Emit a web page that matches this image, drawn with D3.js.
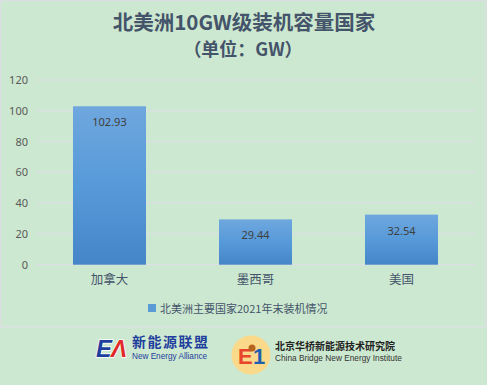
<!DOCTYPE html>
<meta charset="utf-8" />
<style>
  body { margin: 0; overflow: hidden; background: #cde8d0; }
  svg { font-family: "Noto Sans CJK SC", "Noto Sans", sans-serif; display: block; }
</style>
<body>
<svg></svg>
<script src="https://d3js.org/d3.v7.min.js"></script>
<script>
  var countries = ["加拿大", "墨西哥", "美国"];
  var capacity = [102.93, 29.44, 32.54];
  var yTicks = [0, 20, 40, 60, 80, 100, 120];
  var seriesName = "北美洲主要国家2021年末装机情况";

  var width = 487, height = 385;
  var svg = d3.select("svg").attr("width", width).attr("height", height);

  var defs = svg.append("defs");
  var grad = defs.append("linearGradient").attr("id", "barGrad")
    .attr("x1", 0).attr("y1", 0).attr("x2", 0).attr("y2", 1);
  grad.append("stop").attr("offset", "0%").attr("stop-color", "#6fa7de");
  grad.append("stop").attr("offset", "50%").attr("stop-color", "#579ad9");
  grad.append("stop").attr("offset", "100%").attr("stop-color", "#4585c8");

  // chart frame
  svg.append("rect").attr("x", 0.5).attr("y", 0.5).attr("width", 485).attr("height", 326.5)
    .attr("fill", "#cde8d0").attr("stroke", "#dcdfe2").attr("stroke-width", 1.5);

  // title
  svg.append("text").attr("x", 244).attr("y", 30).attr("text-anchor", "middle")
    .attr("font-size", 20.5).attr("font-weight", "bold").attr("fill", "#44546a")
    .text("北美洲10GW级装机容量国家");
  svg.append("text").attr("x", 243).attr("y", 56).attr("text-anchor", "middle")
    .attr("font-size", 18).attr("font-weight", "bold").attr("fill", "#44546a")
    .text("（单位：GW）");

  var x = d3.scaleBand().domain(countries).range([36.5, 474.5]).paddingInner(0.5).paddingOuter(0.25);
  var y = d3.scaleLinear().domain([0, 120]).range([264.7, 80]);

  // gridlines
  svg.append("g").selectAll("line").data(yTicks).join("line")
    .attr("x1", 37).attr("x2", 475)
    .attr("y1", d => y(d)).attr("y2", d => y(d))
    .attr("stroke", "#dcdfe3").attr("stroke-width", 1.3);

  // y axis labels
  var yAxis = d3.axisLeft(y).tickValues(yTicks).tickSize(0).tickPadding(0);
  var gy = svg.append("g").attr("transform", "translate(28,0)").call(yAxis);
  gy.select(".domain").remove();
  gy.selectAll("text").attr("font-size", 11).attr("fill", "#595959")
    .attr("font-family", "'Noto Sans', sans-serif");

  // bars
  svg.append("g").selectAll("rect").data(capacity).join("rect")
    .attr("x", (d, i) => x(countries[i]))
    .attr("width", x.bandwidth())
    .attr("y", d => y(d))
    .attr("height", d => y(0) - y(d))
    .attr("fill", "url(#barGrad)");

  // value labels
  svg.append("g").selectAll("text").data(capacity).join("text")
    .attr("x", (d, i) => x(countries[i]) + x.bandwidth() / 2)
    .attr("y", d => y(d) + 20)
    .attr("text-anchor", "middle")
    .attr("font-size", 11).attr("fill", "#404040")
    .attr("font-family", "'Noto Sans', sans-serif")
    .text(d => d.toFixed(2));

  // x axis labels
  var xAxis = d3.axisBottom(x).tickSize(0).tickPadding(0);
  var gx = svg.append("g").attr("transform", "translate(0,275)").call(xAxis);
  gx.select(".domain").remove();
  gx.selectAll("text").attr("font-size", 12.5).attr("fill", "#44546a")
    .attr("font-family", "'Noto Sans CJK SC', sans-serif");

  // legend
  svg.append("rect").attr("x", 148).attr("y", 304).attr("width", 8).attr("height", 8).attr("fill", "#5b9bd5");
  svg.append("text").attr("x", 160).attr("y", 312.5).attr("font-size", 11).attr("fill", "#44546a")
    .text(seriesName);

  // logo 1: New Energy Alliance
  var l1 = svg.append("g");
  l1.append("text").attr("x", 96).attr("y", 357).attr("font-size", 24).attr("font-weight", "bold")
    .attr("font-style", "italic").attr("font-family", "'Liberation Sans', sans-serif")
    .attr("fill", "#1f3f9e").attr("stroke", "#fff").attr("stroke-width", 1.5).attr("paint-order", "stroke")
    .text("E");
  l1.append("text").attr("x", 111).attr("y", 357).attr("font-size", 24).attr("font-weight", "bold")
    .attr("font-style", "italic").attr("font-family", "'Liberation Sans', sans-serif")
    .attr("fill", "#e02a2a").attr("stroke", "#fff").attr("stroke-width", 1.5).attr("paint-order", "stroke")
    .text("Λ");
  l1.append("text").attr("x", 132).attr("y", 347).attr("font-size", 14).attr("font-weight", "bold")
    .attr("fill", "#1f3f9e").attr("font-family", "'Noto Sans CJK SC', sans-serif")
    .attr("letter-spacing", 1.5).text("新能源联盟");
  l1.append("text").attr("x", 132).attr("y", 359).attr("font-size", 8.2)
    .attr("fill", "#1f3f9e").attr("font-family", "'Liberation Sans', sans-serif")
    .text("New Energy  Alliance");

  // logo 2: China Bridge New Energy Institute
  var l2 = svg.append("g");
  l2.append("circle").attr("cx", 251).attr("cy", 355).attr("r", 19.5).attr("fill", "#fbd98a");
  l2.append("text").attr("x", 238).attr("y", 364).attr("font-size", 22).attr("font-weight", "bold")
    .attr("font-family", "'Liberation Sans', sans-serif").attr("fill", "#e8452c").text("E");
  l2.append("circle").attr("cx", 252).attr("cy", 348).attr("r", 3.5).attr("fill", "#b5651d");
  l2.append("text").attr("x", 253).attr("y", 364).attr("font-size", 22).attr("font-weight", "bold")
    .attr("font-family", "'Liberation Sans', sans-serif").attr("fill", "#1f5fb0").text("1");
  l2.append("text").attr("x", 275).attr("y", 350).attr("font-size", 10).attr("font-weight", "bold")
    .attr("fill", "#222").attr("font-family", "'Noto Sans CJK SC', sans-serif")
    .text("北京华桥新能源技术研究院");
  l2.append("text").attr("x", 275).attr("y", 361).attr("font-size", 8.3)
    .attr("fill", "#333").attr("font-family", "'Liberation Sans', sans-serif")
    .text("China Bridge New Energy Institute");
</script>
</body>
